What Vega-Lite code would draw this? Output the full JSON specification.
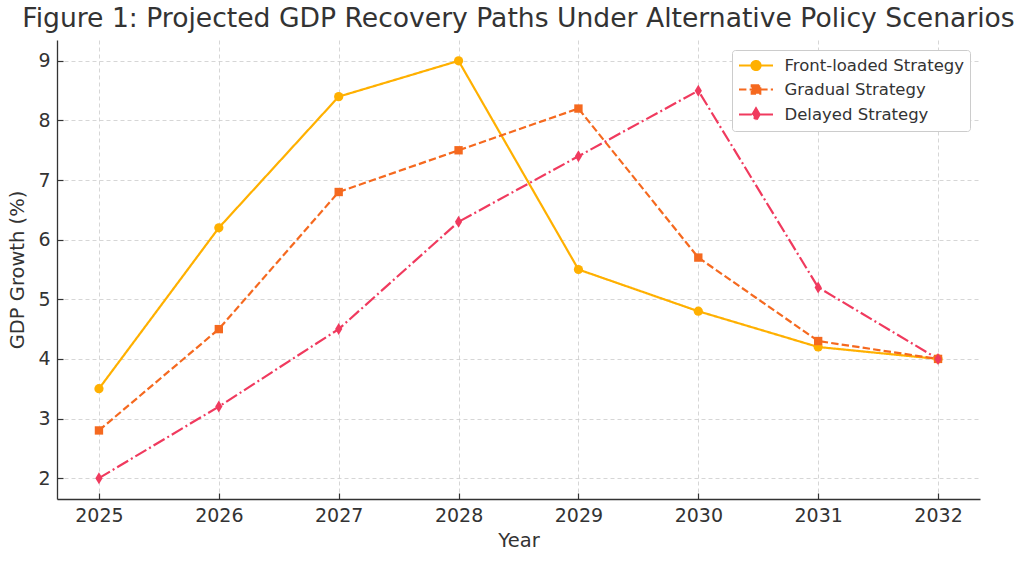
{
  "$schema": "https://vega.github.io/schema/vega-lite/v6.json",
  "width": 923,
  "height": 459,
  "autosize": {"type": "none"},
  "padding": {"left": 57, "top": 40, "right": 44, "bottom": 64},
  "background": "white",
  "title": {
    "text": "Figure 1: Projected GDP Recovery Paths Under Alternative Policy Scenarios",
    "font": "DejaVu Sans",
    "fontSize": 26.6,
    "fontWeight": "normal",
    "color": "#333333",
    "offset": 7
  },
  "data": {
    "values": [
      {"year": 2025, "growth": 3.5, "series": "Front-loaded Strategy"},
      {"year": 2026, "growth": 6.2, "series": "Front-loaded Strategy"},
      {"year": 2027, "growth": 8.4, "series": "Front-loaded Strategy"},
      {"year": 2028, "growth": 9.0, "series": "Front-loaded Strategy"},
      {"year": 2029, "growth": 5.5, "series": "Front-loaded Strategy"},
      {"year": 2030, "growth": 4.8, "series": "Front-loaded Strategy"},
      {"year": 2031, "growth": 4.2, "series": "Front-loaded Strategy"},
      {"year": 2032, "growth": 4.0, "series": "Front-loaded Strategy"},
      {"year": 2025, "growth": 2.8, "series": "Gradual Strategy"},
      {"year": 2026, "growth": 4.5, "series": "Gradual Strategy"},
      {"year": 2027, "growth": 6.8, "series": "Gradual Strategy"},
      {"year": 2028, "growth": 7.5, "series": "Gradual Strategy"},
      {"year": 2029, "growth": 8.2, "series": "Gradual Strategy"},
      {"year": 2030, "growth": 5.7, "series": "Gradual Strategy"},
      {"year": 2031, "growth": 4.3, "series": "Gradual Strategy"},
      {"year": 2032, "growth": 4.0, "series": "Gradual Strategy"},
      {"year": 2025, "growth": 2.0, "series": "Delayed Strategy"},
      {"year": 2026, "growth": 3.2, "series": "Delayed Strategy"},
      {"year": 2027, "growth": 4.5, "series": "Delayed Strategy"},
      {"year": 2028, "growth": 6.3, "series": "Delayed Strategy"},
      {"year": 2029, "growth": 7.4, "series": "Delayed Strategy"},
      {"year": 2030, "growth": 8.5, "series": "Delayed Strategy"},
      {"year": 2031, "growth": 5.2, "series": "Delayed Strategy"},
      {"year": 2032, "growth": 4.0, "series": "Delayed Strategy"}
    ]
  },
  "encoding": {
    "x": {
      "field": "year",
      "type": "quantitative",
      "title": "Year",
      "scale": {"domain": [2024.65, 2032.35], "nice": false, "zero": false},
      "axis": {"values": [2025, 2026, 2027, 2028, 2029, 2030, 2031, 2032], "format": "d", "labelPadding": 13, "titlePadding": 6}
    },
    "y": {
      "field": "growth",
      "type": "quantitative",
      "title": "GDP Growth (%)",
      "scale": {"domain": [1.65, 9.35], "nice": false, "zero": false},
      "axis": {"values": [2, 3, 4, 5, 6, 7, 8, 9], "labelPadding": 13, "titlePadding": 10}
    },
    "color": {
      "field": "series",
      "type": "nominal",
      "title": null,
      "scale": {
        "domain": ["Front-loaded Strategy", "Gradual Strategy", "Delayed Strategy"],
        "range": ["#FFB000", "#F5691F", "#F03A5E"]
      }
    }
  },
  "layer": [
    {
      "mark": {"type": "line", "strokeWidth": 2.2},
      "encoding": {
        "strokeDash": {
          "field": "series",
          "type": "nominal",
          "title": null,
          "scale": {
            "domain": ["Front-loaded Strategy", "Gradual Strategy", "Delayed Strategy"],
            "range": [[1, 0], [7.4, 3.2], [12.8, 3.2, 2, 3.2]]
          }
        }
      }
    },
    {
      "transform": [{"filter": "datum.series === 'Front-loaded Strategy'"}],
      "mark": {"type": "point", "filled": true, "opacity": 1, "shape": "circle", "size": 85}
    },
    {
      "transform": [{"filter": "datum.series === 'Gradual Strategy'"}],
      "mark": {"type": "point", "filled": true, "opacity": 1, "shape": "square", "size": 70}
    },
    {
      "transform": [{"filter": "datum.series === 'Delayed Strategy'"}],
      "mark": {"type": "point", "filled": true, "opacity": 1, "shape": "M0,-1L0.6,0L0,1L-0.6,0Z", "size": 144}
    },
    {
      "transform": [{"filter": "false"}],
      "mark": {"type": "point", "filled": true, "opacity": 1, "strokeWidth": 2.2},
      "encoding": {
        "shape": {
          "field": "series",
          "type": "nominal",
          "title": null,
          "scale": {
            "domain": ["Front-loaded Strategy", "Gradual Strategy", "Delayed Strategy"],
            "range": [
              "M-1,0L3,0M0.47,0A0.53,0.53 0 1,0 1.53,0A0.53,0.53 0 1,0 0.47,0Z",
              "M-1,0L3,0M0.5,-0.5H1.5V0.5H0.5Z",
              "M-1,0L3,0M1,-0.72L1.42,0L1,0.72L0.58,0Z"
            ]
          }
        },
        "stroke": {
          "field": "series",
          "type": "nominal",
          "title": null,
          "scale": {
            "domain": ["Front-loaded Strategy", "Gradual Strategy", "Delayed Strategy"],
            "range": ["#FFB000", "#F5691F", "#F03A5E"]
          }
        },
        "strokeDash": {
          "field": "series",
          "type": "nominal",
          "title": null
        }
      }
    }
  ],
  "config": {
    "view": {"stroke": null},
    "font": "DejaVu Sans",
    "axis": {
      "labelFont": "DejaVu Sans",
      "titleFont": "DejaVu Sans",
      "labelFontSize": 19,
      "titleFontSize": 19.5,
      "titleFontWeight": "normal",
      "labelColor": "#333333",
      "titleColor": "#333333",
      "domainColor": "#333333",
      "domainWidth": 1.3,
      "tickColor": "#333333",
      "tickWidth": 1.2,
      "tickSize": -6,
      "grid": true,
      "gridColor": "#cccccc",
      "gridDash": [4, 3],
      "gridWidth": 0.8
    },
    "legend": {
      "orient": "top-right",
      "offset": 10,
      "labelFont": "DejaVu Sans",
      "labelFontSize": 16.5,
      "labelLimit": 400,
      "labelColor": "#333333",
      "symbolSize": 289,
      "symbolStrokeWidth": 2.2,
      "rowPadding": 5,
      "padding": 5.5,
      "fillColor": "white",
      "strokeColor": "#cccccc",
      "cornerRadius": 3,
      "labelOffset": 27
    }
  }
}
